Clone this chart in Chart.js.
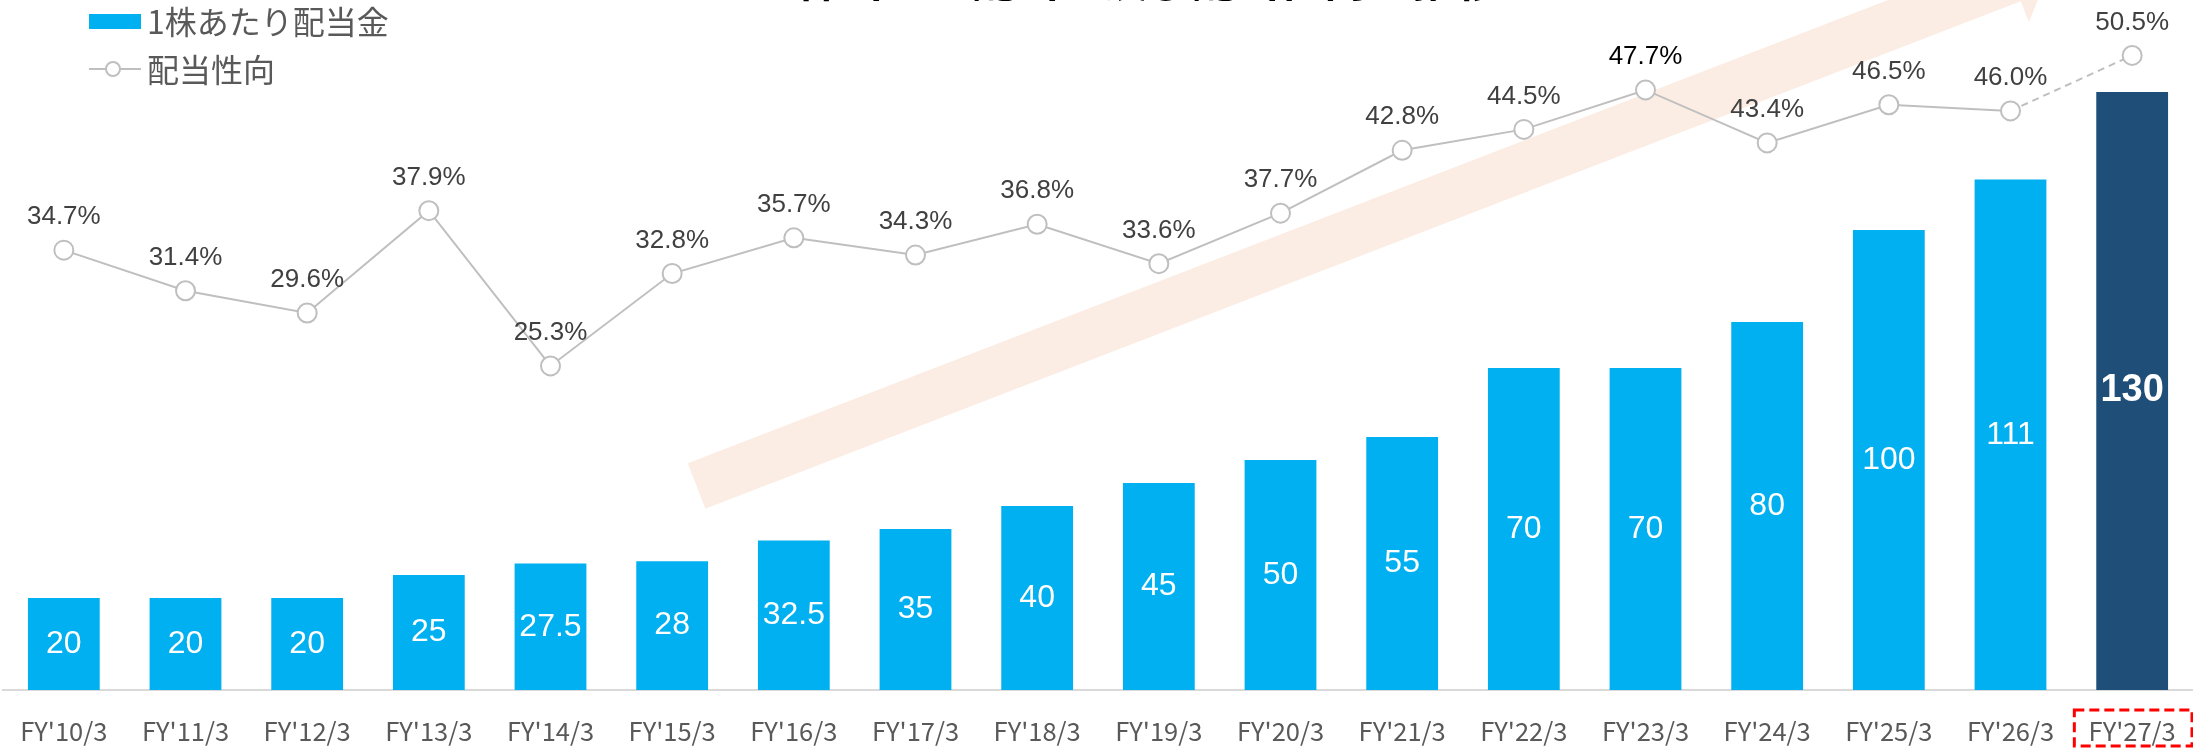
<!DOCTYPE html>
<html><head><meta charset="utf-8">
<script src="https://cdn.jsdelivr.net/npm/chart.js@4.4.1/dist/chart.umd.min.js"></script>
<style>html,body{margin:0;padding:0;background:#fff;} #wrap{position:relative;width:2193px;height:748px;}</style>
</head><body><div id="wrap"><canvas id="c"></canvas></div>
<script>
const categories = ["FY'10/3","FY'11/3","FY'12/3","FY'13/3","FY'14/3","FY'15/3","FY'16/3","FY'17/3","FY'18/3","FY'19/3","FY'20/3","FY'21/3","FY'22/3","FY'23/3","FY'24/3","FY'25/3","FY'26/3","FY'27/3"];
const dividendPerShare = [20, 20, 20, 25, 27.5, 28, 32.5, 35, 40, 45, 50, 55, 70, 70, 80, 100, 111, 130];
const payoutRatio = [34.7, 31.4, 29.6, 37.9, 25.3, 32.8, 35.7, 34.3, 36.8, 33.6, 37.7, 42.8, 44.5, 47.7, 43.4, 46.5, 46.0, 50.5];
const legendNames = ["1株あたり配当金", "配当性向"];
const titleText = "1株当たり配当金及び配当性向の推移";

const BLUE = '#00B0F0', NAVY = '#1F4E79', GREY = '#BFBFBF';
const last = dividendPerShare.length - 1;

const arrowPlugin = {
  id: 'arrow',
  beforeDatasetsDraw(chart) {
    const ctx = chart.ctx;
    const ang = 21.1 * Math.PI / 180;
    const u = [Math.cos(ang), -Math.sin(ang)], n = [Math.sin(ang), Math.cos(ang)];
    const c = [696.5, 486], hw = 24.5, hb = 1410, hh = 47, tip = 1454;
    const P = (a, b) => [c[0] + a * u[0] + b * n[0], c[1] + a * u[1] + b * n[1]];
    const pts = [P(0, -hw), P(hb, -hw), P(hb, -hh), P(tip, 0), P(hb, hh), P(hb, hw), P(0, hw)];
    ctx.save();
    ctx.fillStyle = '#FCEDE4';
    ctx.beginPath();
    pts.forEach((p, i) => i ? ctx.lineTo(p[0], p[1]) : ctx.moveTo(p[0], p[1]));
    ctx.closePath();
    ctx.fill();
    ctx.restore();
  }
};

const labelPlugin = {
  id: 'labels',
  afterDatasetsDraw(chart) {
    const ctx = chart.ctx;
    ctx.save();
    ctx.textAlign = 'center';
    ctx.textBaseline = 'middle';
    const barMeta = chart.getDatasetMeta(0);
    barMeta.data.forEach((el, i) => {
      ctx.fillStyle = '#FFFFFF';
      ctx.font = i === last ? 'bold 38px "Liberation Sans", Arial' : '32px "Liberation Sans", Arial';
      ctx.fillText(String(dividendPerShare[i]), el.x, (el.y + el.base) / 2);
    });
    const lineMeta = chart.getDatasetMeta(1);
    const peak = Math.max(...payoutRatio.slice(0, last));
    lineMeta.data.forEach((el, i) => {
      ctx.fillStyle = payoutRatio[i] === peak ? '#000000' : '#404040';
      ctx.font = '26px "Liberation Sans", Arial';
      ctx.fillText(payoutRatio[i].toFixed(1) + '%', el.x, el.y - 33);
    });
    ctx.restore();
  }
};

const decoPlugin = {
  id: 'deco',
  afterDraw(chart) {
    const ctx = chart.ctx;
    ctx.save();
    // title (cut off at top)
    ctx.fillStyle = '#000';
    ctx.font = 'bold 44px "Noto Sans CJK JP"';
    ctx.textAlign = 'center';
    ctx.textBaseline = 'alphabetic';
    ctx.fillText(titleText, 1135, -3);
    // legend
    ctx.fillStyle = BLUE;
    ctx.fillRect(89, 14, 52, 15);
    ctx.strokeStyle = GREY; ctx.lineWidth = 2;
    ctx.beginPath(); ctx.moveTo(89, 69); ctx.lineTo(141, 69); ctx.stroke();
    ctx.beginPath(); ctx.arc(113, 69, 7, 0, Math.PI * 2);
    ctx.fillStyle = '#fff'; ctx.fill(); ctx.stroke();
    ctx.fillStyle = '#595959';
    ctx.font = '32px "Noto Sans CJK JP"';
    ctx.textAlign = 'left';
    ctx.textBaseline = 'middle';
    ctx.fillText(legendNames[0], 147, 22);
    ctx.fillText(legendNames[1], 147, 70);
    // dashed box around forecast label
    const xs = chart.scales.x;
    const px = xs.getPixelForTick(last);
    const w = (xs.right - xs.left) / categories.length;
    ctx.strokeStyle = '#FF0000';
    ctx.lineWidth = 3;
    ctx.setLineDash([10, 5]);
    ctx.strokeRect(px - w / 2 + 3, 710, w - 4, 36);
    ctx.restore();
  }
};

new Chart(document.getElementById('c'), {
  type: 'bar',
  data: {
    labels: categories,
    datasets: [
      {
        type: 'bar', label: legendNames[0], data: dividendPerShare, yAxisID: 'y', order: 1,
        backgroundColor: dividendPerShare.map((v, i) => i === last ? NAVY : BLUE),
        barPercentage: 0.59, categoryPercentage: 1.0, borderWidth: 0
      },
      {
        type: 'line', label: legendNames[1], data: payoutRatio, yAxisID: 'y1', order: 0,
        borderColor: GREY, borderWidth: 2, tension: 0, fill: false,
        pointRadius: 9.5, pointBackgroundColor: '#FFFFFF', pointBorderColor: GREY, pointBorderWidth: 2,
        segment: { borderDash: ctx => ctx.p1DataIndex === last ? [7, 5] : [] }
      }
    ]
  },
  options: {
    responsive: true, maintainAspectRatio: false, animation: false,
    layout: { padding: { left: 3, right: 0, top: 0, bottom: 0 }, autoPadding: false },
    plugins: { legend: { display: false }, tooltip: { enabled: false } },
    scales: {
      x: {
        offset: true,
        grid: { display: false, drawTicks: false },
        border: { display: true, color: '#D9D9D9', width: 2 },
        ticks: { color: '#595959', font: { family: '"Noto Sans CJK JP"', size: 25.5, lineHeight: 3.22 }, padding: 0, maxRotation: 0, autoSkip: false },
        afterFit: s => { s.height = 58; }
      },
      y: { display: false, min: 0, max: 150 },
      y1: { display: false, min: -1, max: 55, position: 'right' }
    }
  },
  plugins: [arrowPlugin, labelPlugin, decoPlugin]
});
</script>
</body></html>
